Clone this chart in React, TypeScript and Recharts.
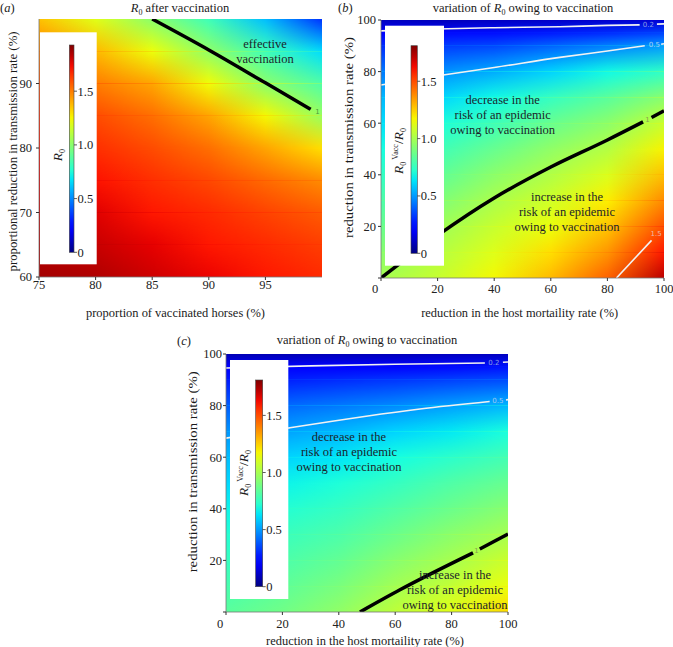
import React from 'react';
import { ComposedChart, Line, XAxis, YAxis, ReferenceArea, ReferenceDot } from 'recharts';

const SERIF = "'Liberation Serif', 'DejaVu Serif', 'Times New Roman', serif";
const INK = '#1c1f2a';

// ---- panel (a): R0 after vaccination ----
const aVaccinated = [75, 80, 85, 90, 95, 100];
const aReduction = [60, 65, 70, 75, 80, 85, 90, 95, 100];
// one row per reduction value, one column per vaccinated value
const aR0 = [
  [1.87, 1.85, 1.8, 1.75, 1.71, 1.67],
  [1.84, 1.81, 1.76, 1.71, 1.67, 1.63],
  [1.8, 1.77, 1.71, 1.67, 1.62, 1.57],
  [1.76, 1.72, 1.66, 1.61, 1.54, 1.47],
  [1.72, 1.66, 1.6, 1.53, 1.42, 1.3],
  [1.67, 1.6, 1.53, 1.42, 1.25, 1.03],
  [1.6, 1.5, 1.42, 1.24, 1.0, 0.86],
  [1.5, 1.38, 1.23, 1.01, 0.82, 0.66],
  [1.36, 1.2, 1.0, 0.82, 0.6, 0.33],
];
const aXTicks = [75, 80, 85, 90, 95];
const aYTicks = [60, 70, 80, 90];
const aContour1 = [
  { x: 85, y: 100 }, { x: 90, y: 95.2 }, { x: 95, y: 90.1 }, { x: 99, y: 86 },
];

// ---- panels (b) and (c): variation of R0 owing to vaccination ----
const mortality = [0, 20, 40, 60, 80, 100];
const transmission = [0, 10, 20, 30, 40, 50, 60, 70, 80, 90, 95, 100];
const bRatio = [
  [1.0, 1.07, 1.17, 1.29, 1.46, 1.72],
  [0.93, 1.03, 1.12, 1.22, 1.36, 1.6],
  [0.86, 0.98, 1.07, 1.15, 1.27, 1.49],
  [0.8, 0.91, 1.01, 1.09, 1.19, 1.38],
  [0.74, 0.84, 0.94, 1.02, 1.11, 1.28],
  [0.68, 0.77, 0.86, 0.95, 1.03, 1.18],
  [0.62, 0.69, 0.77, 0.86, 0.94, 1.07],
  [0.55, 0.6, 0.67, 0.75, 0.83, 0.93],
  [0.44, 0.48, 0.53, 0.6, 0.67, 0.74],
  [0.3, 0.33, 0.35, 0.4, 0.45, 0.5],
  [0.22, 0.24, 0.25, 0.27, 0.3, 0.34],
  [0.1, 0.09, 0.1, 0.11, 0.12, 0.13],
];
const cRatio = [
  [0.83, 0.88, 0.95, 1.05, 1.13, 1.23],
  [0.79, 0.84, 0.9, 0.99, 1.06, 1.15],
  [0.75, 0.8, 0.85, 0.93, 1.0, 1.08],
  [0.71, 0.76, 0.8, 0.87, 0.94, 1.0],
  [0.66, 0.71, 0.75, 0.81, 0.87, 0.93],
  [0.61, 0.66, 0.7, 0.75, 0.81, 0.86],
  [0.56, 0.6, 0.63, 0.68, 0.73, 0.78],
  [0.49, 0.51, 0.55, 0.6, 0.64, 0.69],
  [0.39, 0.41, 0.44, 0.47, 0.51, 0.55],
  [0.27, 0.28, 0.3, 0.32, 0.34, 0.36],
  [0.2, 0.21, 0.22, 0.23, 0.24, 0.26],
  [0.08, 0.08, 0.09, 0.09, 0.1, 0.1],
];
const pctTicks = [0, 20, 40, 60, 80, 100];

const bContour02 = [{ x: 0, y: 95.8 }, { x: 20, y: 96.5 }, { x: 40, y: 97 }, { x: 63.2, y: 97.4 }, { x: 80, y: 97.9 }, { x: 91.4, y: 98.1 }];
const bContour02b = [{ x: 97.5, y: 98.4 }, { x: 100, y: 98.5 }];
const bContour05 = [{ x: 0, y: 74.8 }, { x: 22, y: 78.7 }, { x: 40, y: 81.6 }, { x: 63.2, y: 85.5 }, { x: 80, y: 88 }, { x: 93.2, y: 90 }];
const bContour05b = [{ x: 99, y: 90.6 }, { x: 100, y: 90.8 }];
const bContour1 = [{ x: 0, y: 0 }, { x: 20, y: 16.5 }, { x: 40, y: 31 }, { x: 60, y: 43 }, { x: 80, y: 53.5 }, { x: 92.6, y: 60.5 }];
const bContour1b = [{ x: 95.6, y: 62.2 }, { x: 100, y: 64.8 }];
const bContour15 = [{ x: 83.2, y: 0 }, { x: 95.6, y: 14.6 }];

const cContour02 = [{ x: 0, y: 94.6 }, { x: 30, y: 95.4 }, { x: 60, y: 96 }, { x: 91.8, y: 96.5 }];
const cContour02b = [{ x: 98.2, y: 96.8 }, { x: 100, y: 96.9 }];
const cContour05 = [{ x: 0, y: 67.4 }, { x: 22, y: 71.3 }, { x: 68.8, y: 78.7 }, { x: 93.5, y: 81.6 }];
const cContour05b = [{ x: 99.3, y: 82.2 }, { x: 100, y: 82.3 }];
const cContour1 = [{ x: 47.5, y: 0 }, { x: 61.7, y: 8.6 }, { x: 87.6, y: 22.9 }];
const cContour1b = [{ x: 90, y: 24.4 }, { x: 100, y: 30.2 }];

const barTicks = [0, 0.5, 1.0, 1.5];
const barTickLabels = ['0', '0.5', '1.0', '1.5'];

// matplotlib style jet colormap
function jet(t: number) {
  const c = Math.max(0, Math.min(1, t));
  const seg = (pts: number[][]) => {
    for (let i = 1; i < pts.length; i++) {
      if (c <= pts[i][0]) {
        const [x0, y0] = pts[i - 1];
        const [x1, y1] = pts[i];
        return y0 + ((y1 - y0) * (c - x0)) / (x1 - x0);
      }
    }
    return pts[pts.length - 1][1];
  };
  const r = seg([[0, 0], [0.35, 0], [0.66, 1], [0.89, 1], [1, 0.5]]);
  const g = seg([[0, 0], [0.125, 0], [0.375, 1], [0.64, 1], [0.91, 0], [1, 0]]);
  const b = seg([[0, 0.5], [0.11, 1], [0.34, 1], [0.65, 0], [1, 0]]);
  return `rgb(${Math.round(r * 255)},${Math.round(g * 255)},${Math.round(b * 255)})`;
}

// one horizontal band of the heat map, blended between its lower and upper rows
function bandShape(id: string, k: number, xs: number[], lo: number[], hi: number[], vmax: number, top: boolean) {
  const span = xs[xs.length - 1] - xs[0];
  const stops = (vals: number[]) =>
    vals.map((v, i) => <stop key={i} offset={(xs[i] - xs[0]) / span} stopColor={jet(v / vmax)} />);
  return (p: any) => {
    const { x, y, width, height } = p;
    const ext = top ? 0 : 1;
    return (
      <g>
        <defs>
          <linearGradient id={`${id}-lo${k}`} x1="0" y1="0" x2="1" y2="0">{stops(lo)}</linearGradient>
          <linearGradient id={`${id}-hi${k}`} x1="0" y1="0" x2="1" y2="0">{stops(hi)}</linearGradient>
          <linearGradient id={`${id}-ramp${k}`} x1="0" y1="0" x2="0" y2="1">
            <stop offset="0" stopColor="#fff" stopOpacity={1} />
            <stop offset="1" stopColor="#fff" stopOpacity={0} />
          </linearGradient>
          <mask id={`${id}-mask${k}`} maskUnits="objectBoundingBox" maskContentUnits="objectBoundingBox"
            x="0" y="0" width="1" height="1" style={{ maskType: 'alpha' } as any}>
            <rect x="0" y="0" width="1" height="1" fill={`url(#${id}-ramp${k})`} />
          </mask>
        </defs>
        <rect x={x} y={y - ext} width={width} height={height + ext} fill={`url(#${id}-lo${k})`} />
        <rect x={x} y={y} width={width} height={height} fill={`url(#${id}-hi${k})`} mask={`url(#${id}-mask${k})`} />
      </g>
    );
  };
}

type Pt = { x: number; y: number };
type Contour = { data: Pt[]; color: string; width: number };
type Tag = { x: number; y: number; text: string; color: string };

function ZeroShiftTick(props: any) {
  const { x, y, payload } = props;
  return (
    <text x={x + (payload.value === 0 ? -6 : 0)} y={y} dy="0.71em" textAnchor="middle"
      fill="#222" fontSize={12.5} fontFamily={SERIF}>
      {payload.value}
    </text>
  );
}

function Panel(props: {
  id: string; left: number; top: number; width: number; height: number;
  margin: { top: number; right: number; bottom: number; left: number };
  xs: number[]; ys: number[]; grid: number[][]; vmax: number;
  xDomain: number[]; yDomain: number[]; xTicks: number[]; yTicks: number[];
  xGap: number; yGap: number; shiftZero: boolean;
  contours: Contour[]; tags: Tag[];
}) {
  const { id, xs, ys, grid, vmax } = props;
  const axisLine = { stroke: '#777', strokeWidth: 0.8 };
  const tickLine = { stroke: '#333' };
  const tickStyle = { fill: '#222', fontSize: 12.5, fontFamily: SERIF };
  return (
    <div style={{ position: 'absolute', left: props.left, top: props.top }}>
      <ComposedChart width={props.width} height={props.height} margin={props.margin}>
        <XAxis type="number" dataKey="x" domain={props.xDomain} ticks={props.xTicks} allowDataOverflow
          height={30} tickSize={3} tickMargin={props.xGap} axisLine={axisLine} tickLine={tickLine}
          tick={props.shiftZero ? <ZeroShiftTick /> : tickStyle} interval={0} />
        <YAxis type="number" domain={props.yDomain} ticks={props.yTicks} allowDataOverflow
          width={30} tickSize={3} tickMargin={props.yGap} axisLine={axisLine} tickLine={tickLine}
          tick={tickStyle} interval={0} tickFormatter={(v: number) => (props.shiftZero && v === 0 ? '' : String(v))} />
        {ys.slice(0, -1).map((yv, k) => (
          <ReferenceArea key={`band${k}`} x1={xs[0]} x2={xs[xs.length - 1]} y1={yv} y2={ys[k + 1]}
            ifOverflow="visible"
            shape={bandShape(id, k, xs, grid[k], grid[k + 1], vmax, k === ys.length - 2)} />
        ))}
        {props.contours.map((c, i) => (
          <Line key={`ct${i}`} data={c.data} dataKey="y" type="monotone" stroke={c.color}
            strokeWidth={c.width} dot={false} activeDot={false} isAnimationActive={false} />
        ))}
        {props.tags.map((t, i) => (
          <ReferenceDot key={`tag${i}`} x={t.x} y={t.y} r={0} fill="none" stroke="none"
            label={{ value: t.text, position: 'center', fill: t.color, fontSize: 7, fontFamily: 'DejaVu Sans' }} />
        ))}
      </ComposedChart>
    </div>
  );
}

function ColorBar(props: {
  id: string; box: number[]; bar: number[]; vmax: number;
  labelX: number; labelY: number; ratio: boolean;
}) {
  const [bx0, by0, bx1, by1] = props.box;
  const [x0, top, x1, bottom] = props.bar;
  // stops from the top (high end of the map) down to the bottom
  const steps = Array.from({ length: 21 }, (_, i) => i / 20);
  return (
    <g>
      <defs>
        <linearGradient id={props.id} x1="0" y1="0" x2="0" y2="1">
          {steps.map((s) => <stop key={s} offset={s} stopColor={jet(1 - s)} />)}
        </linearGradient>
      </defs>
      <rect x={bx0} y={by0} width={bx1 - bx0} height={by1 - by0} fill="#fff" />
      <rect x={x0} y={top} width={x1 - x0} height={bottom - top} fill={`url(#${props.id})`} stroke="#444" strokeWidth={0.6} />
      {barTicks.map((v, i) => {
        const yy = bottom - (v / props.vmax) * (bottom - top);
        return (
          <g key={i}>
            <line x1={x1} x2={x1 + 3} y1={yy} y2={yy} stroke="#333" strokeWidth={0.8} />
            <text x={x1 + 3.5} y={yy} dy="0.35em" fontSize={12.5}>{barTickLabels[i]}</text>
          </g>
        );
      })}
      <text transform={`translate(${props.labelX},${props.labelY}) rotate(-90)`} textAnchor="middle" dy="0.35em" fontSize={13.5}>
        <tspan fontStyle="italic">R</tspan>
        <tspan fontSize={8} dy={3}>0</tspan>
        {props.ratio ? (
          <>
            <tspan fontSize={8} dy={-8} dx={2}>Vacc</tspan>
            <tspan dy={5}>/</tspan>
            <tspan fontStyle="italic">R</tspan>
            <tspan fontSize={8} dy={3}>0</tspan>
          </>
        ) : null}
      </text>
    </g>
  );
}

function Title({ x, y, rest }: { x: number; y: number; rest: [string, string] }) {
  return (
    <text x={x} y={y} textAnchor="middle" fontSize={12.5}>
      <tspan>{rest[0]}</tspan>
      <tspan fontStyle="italic">R</tspan>
      <tspan fontSize={8} dy={3}>0</tspan>
      <tspan dy={-3}>{rest[1]}</tspan>
    </text>
  );
}

function Note({ x, y, lines }: { x: number; y: number; lines: string[] }) {
  return (
    <text textAnchor="middle" fontSize={12.5} fill={INK}>
      {lines.map((l, i) => (
        <tspan key={i} x={x} y={y + i * 15}>{l}</tspan>
      ))}
    </text>
  );
}

function AxisTitle({ x, y, len, text, vertical }: { x: number; y: number; len: number; text: string; vertical?: boolean }) {
  return (
    <text transform={`translate(${x},${y})${vertical ? ' rotate(-90)' : ''}`} textAnchor="middle"
      dy={vertical ? '0.35em' : 0} fontSize={12.5} textLength={len} lengthAdjust="spacingAndGlyphs">
      {text}
    </text>
  );
}

const decreaseLines = ['decrease in the', 'risk of an epidemic', 'owing to vaccination'];
const increaseLines = ['increase in the', 'risk of an epidemic', 'owing to vaccination'];

export default function App() {
  const white = '#f2f2f2';
  return (
    <div style={{ position: 'absolute', left: 0, top: 0, width: 673, height: 647, background: '#fff', fontFamily: SERIF }}>
      <Panel id="pa" left={0} top={0} width={336} height={320}
        margin={{ top: 19, right: 14, bottom: 13, left: 9 }}
        xs={aVaccinated} ys={aReduction} grid={aR0} vmax={1.93}
        xDomain={[75, 100]} yDomain={[60, 100]} xTicks={aXTicks} yTicks={aYTicks}
        xGap={0} yGap={4} shiftZero={false}
        contours={[{ data: aContour1, color: '#000', width: 3.5 }]}
        tags={[{ x: 99.6, y: 85.7, text: '1', color: '#4a9a3a' }]} />
      <Panel id="pb" left={345} top={0} width={328} height={320}
        margin={{ top: 20, right: 9, bottom: 12, left: 6 }}
        xs={mortality} ys={transmission} grid={bRatio} vmax={1.81}
        xDomain={[0, 100]} yDomain={[0, 100]} xTicks={pctTicks} yTicks={pctTicks}
        xGap={3.5} yGap={2} shiftZero
        contours={[
          { data: bContour02, color: white, width: 1.6 },
          { data: bContour02b, color: white, width: 1.6 },
          { data: bContour05, color: white, width: 1.6 },
          { data: bContour05b, color: white, width: 1.6 },
          { data: bContour15, color: white, width: 1.6 },
          { data: bContour1, color: '#000', width: 3.5 },
          { data: bContour1b, color: '#000', width: 3.5 },
        ]}
        tags={[
          { x: 94.5, y: 98.2, text: '0.2', color: '#8c9ce6' },
          { x: 96.6, y: 90.4, text: '0.5', color: '#a8d4f2' },
          { x: 94.2, y: 61.5, text: '1', color: '#8aa050' },
          { x: 97.2, y: 17.4, text: '1.5', color: '#f0b8a8' },
        ]} />
      <Panel id="pc" left={190} top={330} width={340} height={317}
        margin={{ top: 24, right: 22, bottom: 5, left: 6 }}
        xs={mortality} ys={transmission} grid={cRatio} vmax={1.81}
        xDomain={[0, 100]} yDomain={[0, 100]} xTicks={pctTicks} yTicks={pctTicks}
        xGap={4} yGap={1} shiftZero
        contours={[
          { data: cContour02, color: white, width: 1.6 },
          { data: cContour02b, color: white, width: 1.6 },
          { data: cContour05, color: white, width: 1.6 },
          { data: cContour05b, color: white, width: 1.6 },
          { data: cContour1, color: '#000', width: 3.5 },
          { data: cContour1b, color: '#000', width: 3.5 },
        ]}
        tags={[
          { x: 95, y: 96.6, text: '0.2', color: '#8c9ce6' },
          { x: 96.4, y: 81.9, text: '0.5', color: '#a0c8f2' },
          { x: 88.8, y: 23.7, text: '1', color: '#8aa050' },
        ]} />

      <svg width={673} height={647} style={{ position: 'absolute', left: 0, top: 0, pointerEvents: 'none' }}
        fontFamily={SERIF} fill="#1a1a1a">
        {/* panel labels and titles */}
        <text x={0} y={11.5} fontSize={12.5}>(<tspan fontStyle="italic">a</tspan>)</text>
        <text x={338} y={11.5} fontSize={12.5}>(<tspan fontStyle="italic">b</tspan>)</text>
        <text x={177} y={345} fontSize={12.5}>(<tspan fontStyle="italic">c</tspan>)</text>
        <Title x={180} y={11.5} rest={['', ' after vaccination']} />
        <Title x={523} y={12} rest={['variation of ', ' owing to vaccination']} />
        <Title x={367} y={344} rest={['variation of ', ' owing to vaccination']} />

        {/* axis titles */}
        <AxisTitle x={175.5} y={317} len={179} text="proportion of vaccinated horses (%)" />
        <AxisTitle x={519.7} y={317} len={197} text="reduction in the host mortaility rate (%)" />
        <AxisTitle x={365} y={645} len={198} text="reduction in the host mortaility rate (%)" />
        <AxisTitle x={13} y={151.5} len={240} text="proportional reduction in transmission rate (%)" vertical />
        <AxisTitle x={348.3} y={137.5} len={201} text="reduction in transmission rate (%)" vertical />
        <AxisTitle x={193} y={471.8} len={201} text="reduction in transmission rate (%)" vertical />

        {/* colour bars */}
        <ColorBar id="cba" box={[40, 32.3, 96.7, 264.3]} bar={[69.3, 45, 74, 252.3]} vmax={1.93} labelX={57} labelY={155} ratio={false} />
        <ColorBar id="cbb" box={[385, 25.7, 444, 265.7]} bar={[411, 45.7, 417.3, 253.3]} vmax={1.81} labelX={398.3} labelY={151} ratio />
        <ColorBar id="cbc" box={[230, 360, 288.3, 599]} bar={[255.7, 380, 262.7, 586.7]} vmax={1.81} labelX={243.3} labelY={473} ratio />

        {/* annotations */}
        <Note x={265} y={48} lines={['effective', 'vaccination']} />
        <Note x={502.7} y={104} lines={decreaseLines} />
        <Note x={567} y={201} lines={increaseLines} />
        <Note x={349} y={441} lines={decreaseLines} />
        <Note x={455} y={578.5} lines={increaseLines} />
      </svg>
    </div>
  );
}
